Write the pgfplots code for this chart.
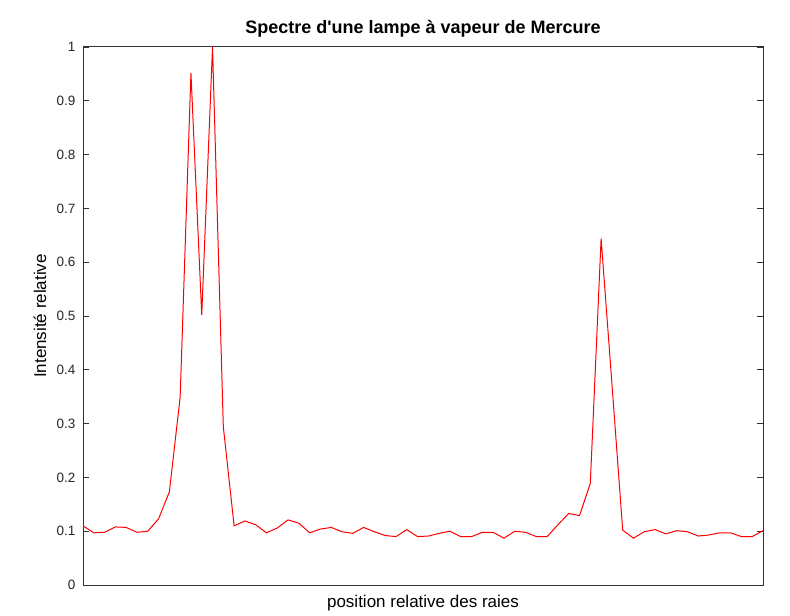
\documentclass[border=0pt]{standalone}
\usepackage{pgfplots}
\pgfplotsset{compat=1.18}
\usepackage{fontspec}
\setmainfont{Liberation Sans}
\begin{document}
\begin{tikzpicture}
\begin{axis}[
  scale only axis, width=680bp, height=538bp,
  xmin=0, xmax=63, ymin=0, ymax=1,
  xtick=\empty,
  ytick={0,0.1,0.2,0.3,0.4,0.5,0.6,0.7,0.8,0.9,1},
  yticklabels={0,0.1,0.2,0.3,0.4,0.5,0.6,0.7,0.8,0.9,1},
  tick align=inside, major tick length=6bp,
  axis line style={line width=1bp,black!80},
  major tick style={line width=0.8bp,black!80},
  yticklabel style={font=\fontsize{13.5bp}{15bp}\selectfont, text=black!85, xshift=-4bp},
  title={Spectre d\textquotesingle une lampe à vapeur de Mercure},
  title style={font=\bfseries\fontsize{18bp}{20bp}\selectfont, at={(0.5,1)}, anchor=base, inner sep=0pt, yshift=8bp},
  xlabel={position relative des raies},
  xlabel style={font=\fontsize{17bp}{19bp}\selectfont, at={(0.5,0)}, anchor=base, inner sep=0pt, yshift=-22bp},
  ylabel={Intensité relative},
  ylabel style={font=\fontsize{17bp}{19bp}\selectfont, at={(0,0.5)}, anchor=center, inner sep=0pt, yshift=43bp},
]
\addplot[color=red, line width=1bp, mark=none] coordinates {
(0,0.110) (1,0.097) (2,0.098) (3,0.108) (4,0.107) (5,0.098) (6,0.100) (7,0.123)
(8,0.173) (9,0.349) (10,0.952) (11,0.502) (12,1.000) (13,0.294) (14,0.110) (15,0.119)
(16,0.112) (17,0.097) (18,0.106) (19,0.121) (20,0.115) (21,0.097) (22,0.104) (23,0.107)
(24,0.099) (25,0.096) (26,0.107) (27,0.099) (28,0.092) (29,0.090) (30,0.103) (31,0.090)
(32,0.091) (33,0.096) (34,0.100) (35,0.090) (36,0.090) (37,0.098) (38,0.098) (39,0.087)
(40,0.100) (41,0.098) (42,0.090) (43,0.090) (44,0.112) (45,0.133) (46,0.129) (47,0.189)
(48,0.644) (49,0.375) (50,0.102) (51,0.087) (52,0.099) (53,0.103) (54,0.095) (55,0.101)
(56,0.099) (57,0.091) (58,0.093) (59,0.097) (60,0.097) (61,0.090) (62,0.090) (63,0.101)
};
\end{axis}
\pgfresetboundingbox
\path ([xshift=-83bp,yshift=-30bp]current axis.south west) rectangle ([xshift=27bp,yshift=47bp]current axis.north east);
\end{tikzpicture}
\end{document}
